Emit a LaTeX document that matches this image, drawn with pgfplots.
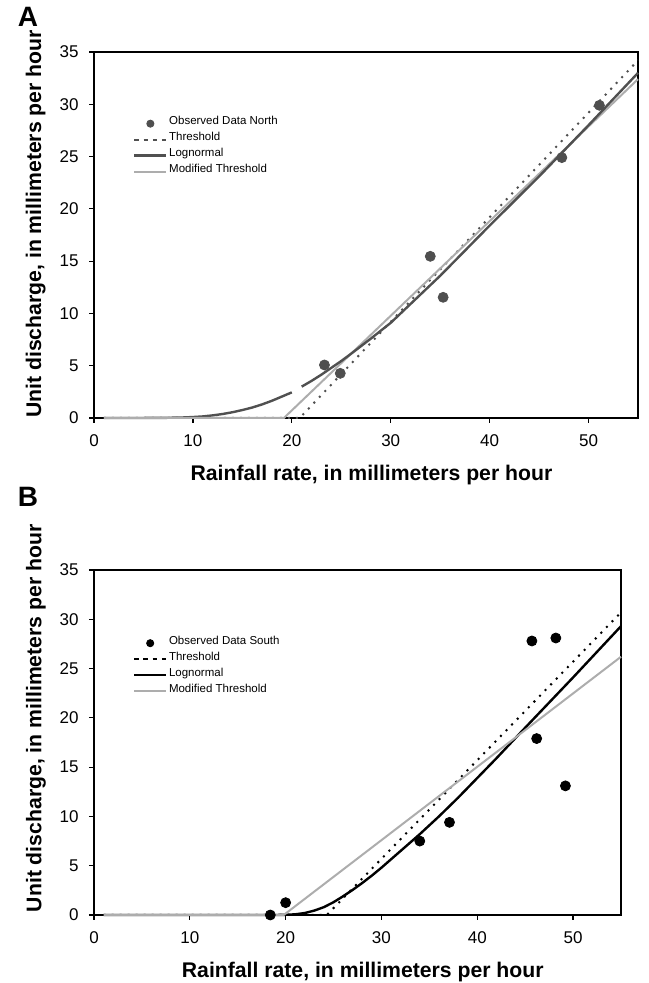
\documentclass[border=0pt]{standalone}
\usepackage{pgfplots}
\pgfplotsset{compat=1.18}
\usepackage{fontspec}
\setmainfont{Liberation Sans}

\definecolor{ptA}{HTML}{4F4F4F}
\definecolor{lnA}{HTML}{505050}
\definecolor{ltgray}{HTML}{ADADAD}

% observed rainfall rate (mm/h) vs unit discharge (mm/h)
\pgfplotstableread{
x y
23.3 5.07
24.9 4.27
34.0 15.46
35.3 11.54
47.3 24.9
51.1 29.9
}\north
\pgfplotstableread{
x y
18.4 0.0
20.0 1.25
34.0 7.5
37.1 9.4
45.7 27.8
48.2 28.1
46.2 17.9
49.2 13.1
}\south

\pgfplotsset{
  panel/.style={
    scale only axis,
    xmin=0, xmax=55, ymin=0, ymax=35,
    xtick={0,10,...,50}, ytick={0,5,...,35},
    tick align=outside, tick pos=left,
    major tick length=2.5pt,
    every tick/.style={black, line width=0.6pt},
    axis line style={line width=0.7pt},
    /pgf/number format/assume math mode=true,
    ticklabel style={font=\fontsize{8.5}{10}\selectfont},
    xticklabel style={yshift=-2.5pt},
    yticklabel style={xshift=-1.7pt},
    xlabel={Rainfall rate, in millimeters per hour},
    ylabel={Unit discharge, in millimeters per hour},
    label style={font=\bfseries\fontsize{10.6}{12}\selectfont, inner sep=0pt},
    xlabel style={at={(axis description cs:0.51,0)}, anchor=north, yshift=-23.5pt},
    legend cell align=left,
    legend style={draw=none, fill=none, anchor=north west,
      font=\fontsize{5.75}{7}\selectfont,
      inner sep=0pt, outer sep=0pt, column sep=0.8pt,
      nodes={inner sep=0pt, text height=4.5pt, text depth=3.5pt}},
    clip=false,
  },
  linelegend/.style={legend image code/.code={\draw[##1] (0pt,0pt) -- (16pt,0pt);}},
  dotlegend/.style={legend image code/.code={\draw[##1, mark size=1.8pt] plot coordinates {(8pt,0pt)};}},
  dashlegend/.style={legend image code/.code={\draw[##1, dash pattern=on 2.2pt off 2.4pt] (0pt,0pt) -- (16pt,0pt);}},
}

\begin{document}
\begin{tikzpicture}
\useasboundingbox (0,0) rectangle (324pt,491.5pt);

% ---------------- panel A ----------------
\begin{axis}[panel,
  at={(47pt,282.5pt)}, anchor=south west,
  width=272pt, height=183pt,
  ylabel style={at={(axis description cs:-0.107,0.53)}, anchor=center},
  legend style={at={(axis description cs:0.072,0.826)}},
]
\addplot[only marks, mark=*, mark size=2.5pt, ptA, dotlegend] table {\north};
\addlegendentry{Observed Data North}
\addplot[lnA, line width=1pt, dash pattern=on 1pt off 3pt, dashlegend]
  coordinates {(1,0) (20.8,0) (55,34.2)};
\addlegendentry{Threshold}
\addplot[lnA, line width=1.2pt, linelegend]
  coordinates {(1,0) (4,0) (7,0.01) (9,0.05) (10,0.09) (11,0.15) (12,0.25)
  (13,0.38) (14,0.55) (15,0.76) (16,1.0) (17,1.3) (18,1.65) (19,2.05) (20,2.45)};
\addlegendentry{Lognormal}
\addplot[ltgray, line width=1pt, linelegend]
  coordinates {(1,0) (19.2,0) (55,32.4)};
\addlegendentry{Modified Threshold}
\addplot[lnA, line width=1.2pt, forget plot]
  coordinates {(21,3.0) (22,3.55) (23,4.15) (24,4.8) (25,5.45) (26,6.15)
  (28,7.6) (30,9.1) (32,10.9) (35,13.6) (40,18.4) (45,23.1) (50,28.0) (55,33.0)};
\end{axis}

% ---------------- panel B ----------------
\begin{axis}[panel,
  at={(47pt,34pt)}, anchor=south west,
  width=263.5pt, height=172.5pt,
  axis line style={line width=0.8pt},
  ylabel style={at={(axis description cs:-0.110,0.57)}, anchor=center},
  legend style={at={(axis description cs:0.074,0.811)}},
]
\addplot[only marks, mark=*, mark size=2.5pt, black, dotlegend] table {\south};
\addlegendentry{Observed Data South}
\addplot[black, line width=1pt, dash pattern=on 1pt off 3pt, dashlegend]
  coordinates {(1,0) (24.3,0) (55,30.7)};
\addlegendentry{Threshold}
\addplot[black, line width=1.2pt, linelegend]
  coordinates {(1,0) (19,0) (20,0.02) (21,0.07) (22,0.2) (23,0.45) (24,0.8)
  (25,1.3) (26,1.9) (27,2.55) (28,3.25) (29,4.0) (30,4.8) (32,6.5) (34,8.2)
  (36,10.0) (38,11.9) (40,13.9) (42,15.9) (45,19.0) (50,24.1) (55,29.3)};
\addlegendentry{Lognormal}
\addplot[ltgray, line width=1pt, linelegend]
  coordinates {(1,0) (19.8,0) (55,26.2)};
\addlegendentry{Modified Threshold}
\end{axis}

\node[font=\bfseries\fontsize{14}{16}\selectfont] at (14pt,483pt) {A};
\node[font=\bfseries\fontsize{14}{16}\selectfont] at (14pt,243pt) {B};
\end{tikzpicture}
\end{document}
